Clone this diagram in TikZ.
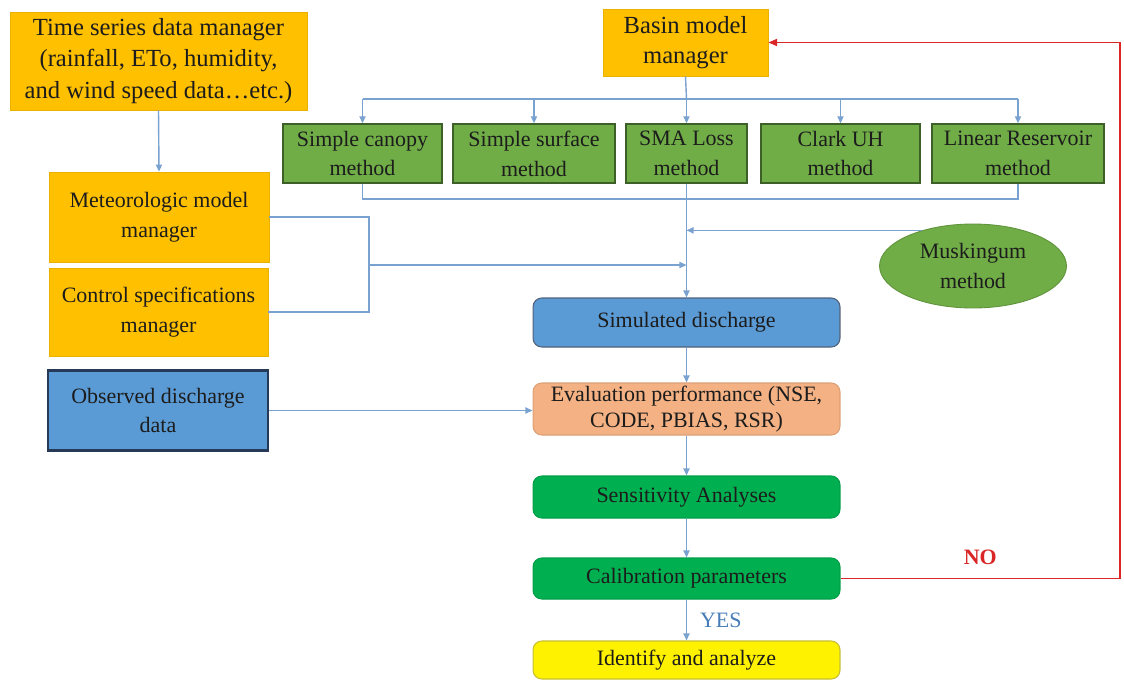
\documentclass[tikz,border=0pt]{standalone}
\usepackage{fontspec}
\setmainfont{Liberation Serif}
\usepackage{xcolor}
\usepackage{tikz}
\usetikzlibrary{arrows.meta,positioning,shapes.geometric}
\definecolor{mgrorange}{RGB}{255,192,0}
\definecolor{methgreen}{RGB}{112,173,71}
\definecolor{methedge}{RGB}{60,96,40}
\definecolor{qblue}{RGB}{91,155,213}
\definecolor{qedge}{RGB}{38,58,88}
\definecolor{evalpeach}{RGB}{244,177,131}
\definecolor{stepgreen}{RGB}{0,176,80}
\definecolor{linkblue}{RGB}{122,162,208}
\definecolor{backred}{RGB}{218,38,38}
\definecolor{yesblue}{RGB}{70,125,185}
\definecolor{txtdark}{RGB}{28,28,28}

\begin{document}
\begin{tikzpicture}[x=0.02cm,y=-0.02cm,
    txt/.style={text=txtdark,align=center,inner sep=1pt,font=\fontsize{12.5}{17}\selectfont},
    mgr/.style={txt,draw=mgrorange!92!black,line width=0.4pt,fill=mgrorange},
    meth/.style={txt,draw=methedge,line width=0.8pt,fill=methgreen,minimum height=1.18cm},
    flowbox/.style={txt,rounded corners=5pt,minimum width=6.14cm,line width=0.6pt},
    link/.style={draw=linkblue,line width=0.8pt},
    arr/.style={link,-{Triangle[length=4pt,width=3.5pt]}},
    backarr/.style={draw=backred,line width=1pt,-{Triangle[length=5pt,width=4pt]}}]
  \useasboundingbox (0,0) rectangle (1124,680);

  % managers and data on the left
  \node[mgr,minimum width=5.94cm,minimum height=1.96cm,font=\fontsize{14}{18}\selectfont] (ts) at (158.5,61)
    {Time series data manager\\(rainfall, ETo, humidity,\\and wind speed data…etc.)};
  \node[mgr,minimum width=4.4cm,minimum height=1.8cm] (met) at (159,217) {Meteorologic model\\manager};
  \node[mgr,minimum width=4.38cm,minimum height=1.76cm] (ctrl) at (158.5,312) {Control specifications\\manager};
  \node[txt,draw=qedge,line width=1.6pt,fill=qblue,minimum width=4.4cm,minimum height=1.6cm] (obs) at (158,410.5)
    {Observed discharge\\data};

  % basin model and its methods
  \node[mgr,minimum width=3.3cm,minimum height=1.34cm,font=\fontsize{14}{17}\selectfont] (basin) at (685.5,42.5) {Basin model\\manager};
  \node[meth,minimum width=3.18cm] (canopy) at (362.5,153.5) {Simple canopy\\method};
  \node[meth,minimum width=3.24cm] (surface) at (534,153.5) {Simple surface\\method};
  \node[meth,minimum width=2.42cm] (sma) at (686.5,153.5) {SMA Loss\\method};
  \node[meth,minimum width=3.18cm] (clark) at (840.5,153.5) {Clark UH\\method};
  \node[meth,minimum width=3.44cm] (linres) at (1018,153.5) {Linear Reservoir\\method};
  \node[txt,ellipse,draw=methgreen!85!black,line width=0.5pt,fill=methgreen,minimum width=3.74cm,minimum height=1.68cm] (musk) at (973,266)
    {Muskingum\\method};

  % main chain
  \node[flowbox,draw=qedge!80,fill=qblue,minimum height=0.98cm] (sim) at (686.5,322.5) {Simulated discharge};
  \node[flowbox,draw=evalpeach!90!black,fill=evalpeach,minimum height=1.04cm,font=\fontsize{12.5}{14.5}\selectfont] (eval) at (686.5,409)
    {Evaluation performance (NSE,\\CODE, PBIAS, RSR)};
  \node[flowbox,draw=stepgreen!90!black,fill=stepgreen,minimum height=0.84cm] (sens) at (686.5,497) {Sensitivity Analyses};
  \node[flowbox,draw=stepgreen!90!black,fill=stepgreen,minimum height=0.82cm] (calib) at (686.5,578.5) {Calibration parameters};
  \node[flowbox,draw=yellow!75!black,fill=yellow,minimum height=0.76cm] (ident) at (686.5,660) {Identify and analyze};

  \coordinate (bus) at (686.5,99);
  \coordinate (col) at (686.5,199);
  \coordinate (mrg) at (369,265);
  \coordinate (ret) at (1120,578.5);

  \draw[arr] (ts.south) -- (met.north);
  \draw[link] (basin.south) -- (bus);
  \draw[link] (bus -| canopy.north) -- (bus -| linres.north);
  \foreach \m in {canopy,surface,sma,clark,linres}
    \draw[arr] (bus -| \m.north) -- (\m.north);
  \draw[link] (canopy.south) |- (col) -| (linres.south);
  \draw[arr] (sma.south) -- (sim.north);
  \draw[arr] (musk.145) -- (musk.145 -| sma.south);
  \draw[link] (met.east) -| (mrg);
  \draw[link] (ctrl.east) -| (mrg);
  \draw[arr] (mrg) -- (mrg -| sma.south);
  \draw[arr] (obs.east) -- (obs.east -| eval.west);
  \draw[arr] (sim) -- (eval);
  \draw[arr] (eval) -- (sens);
  \draw[arr] (sens) -- (calib);
  \draw[arr] (calib) -- node[right=4pt,text=yesblue,font=\fontsize{12.5}{14}\selectfont] {YES} (ident);
  \draw[backarr] (calib.east) -- node[above=4pt,text=backred,font=\bfseries\fontsize{12.5}{14}\selectfont] {NO} (ret) |- (basin.east);
\end{tikzpicture}
\end{document}
